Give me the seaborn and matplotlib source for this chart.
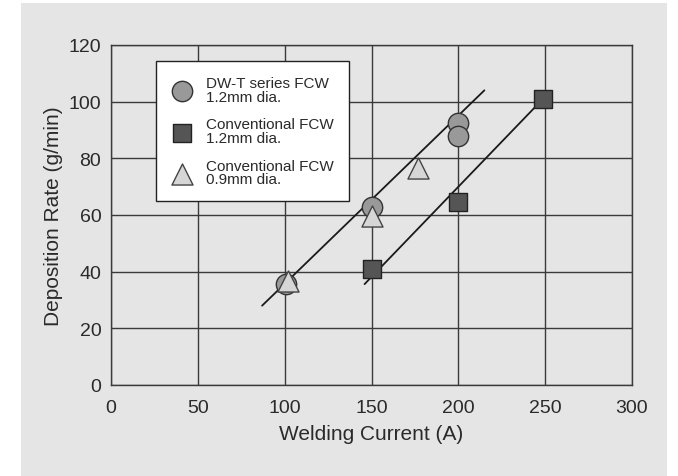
import matplotlib
matplotlib.use("Agg")
import matplotlib.pyplot as plt
from matplotlib.patches import Rectangle
import pandas as pd
import seaborn as sns

# data
dwt_x = [101, 150, 200, 200]
dwt_y = [35.5, 63, 92.3, 87.8]
conv12_x = [150, 200, 249]
conv12_y = [41, 64.5, 100.8]
conv09_x = [102, 150, 177]
conv09_y = [36.8, 59.5, 76.5]

# trend lines (end points)
fit1_x = [87, 215]
fit1_y = [28, 104]
fit2_x = [146, 248]
fit2_y = [35.6, 100.5]

labels = ["DW-T series FCW\n1.2mm dia.",
          "Conventional FCW\n1.2mm dia.",
          "Conventional FCW\n0.9mm dia."]

sns.set_style("white")
plt.rcParams["font.family"] = ["Liberation Sans", "DejaVu Sans"]

bg = "#e5e5e5"
txt = "#2a2a2a"
fig = plt.figure(figsize=(6.78, 4.77), dpi=100)
fig.patches.append(Rectangle((21 / 678, 0), 646 / 678, 473 / 477,
                             transform=fig.transFigure, facecolor=bg,
                             edgecolor="none", zorder=-10))
ax = fig.add_axes([111 / 678, 1 - 386 / 477, 521 / 678, 340 / 477])
ax.set_facecolor(bg)

# trend lines
sns.lineplot(x=fit1_x, y=fit1_y, ax=ax, color="#1a1a1a", lw=1.3, zorder=3)
sns.lineplot(x=fit2_x, y=fit2_y, ax=ax, color="#1a1a1a", lw=1.3, zorder=3)

df1 = pd.DataFrame({"x": dwt_x, "y": dwt_y})
df2 = pd.DataFrame({"x": conv12_x, "y": conv12_y})
df3 = pd.DataFrame({"x": conv09_x, "y": conv09_y})

sns.scatterplot(data=df1, x="x", y="y", ax=ax, marker="o", s=215,
                color="#999999", edgecolor="#333333", linewidth=1, zorder=4,
                label=labels[0])
sns.scatterplot(data=df2, x="x", y="y", ax=ax, marker="s", s=155,
                color="#555555", edgecolor="#222222", linewidth=1, zorder=5,
                label=labels[1])
sns.scatterplot(data=df3, x="x", y="y", ax=ax, marker="^", s=230,
                color="#d6d6d6", edgecolor="#444444", linewidth=1, zorder=6,
                label=labels[2])

ax.set_xlim(0, 300)
ax.set_ylim(0, 120)
ax.set_xticks(range(0, 301, 50))
ax.set_yticks(range(0, 121, 20))
ax.grid(True, color="#3a3a3a", lw=1)
ax.set_axisbelow(True)
for sp in ax.spines.values():
    sp.set_color("#3a3a3a")
    sp.set_linewidth(1)
    sp.set_visible(True)
ax.tick_params(axis="x", length=0, pad=10, labelsize=14, colors=txt)
ax.tick_params(axis="y", length=0, pad=7, labelsize=14, colors=txt)
ax.set_xlabel("Welding Current (A)", fontsize=15, color=txt, labelpad=6)
ax.set_ylabel("Deposition Rate (g/min)", fontsize=15, color=txt, labelpad=4)

leg = ax.legend(loc="upper left", bbox_to_anchor=(0.0864, 0.953),
                borderaxespad=0, fontsize=11, frameon=True, fancybox=False,
                framealpha=1, edgecolor="#222222", labelspacing=0.9,
                handletextpad=0.9, borderpad=1.0, handlelength=1.4)
leg.get_frame().set_linewidth(1)
for t in leg.get_texts():
    t.set_color(txt)
    t.set_linespacing(0.95)

fig.savefig("out.png", dpi=100, facecolor="white")
